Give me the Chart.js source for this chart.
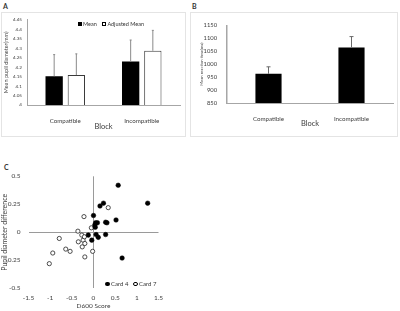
<!DOCTYPE html>
<html>
<head>
<meta charset="utf-8">
<script src="https://cdn.jsdelivr.net/npm/chart.js@4.4.1/dist/chart.umd.min.js"></script>
<style>
  body { margin: 0; width: 400px; height: 311px; background: #fff; position: relative; overflow: hidden; font-family: Lato, "Open Sans", sans-serif; }
  .box { position: absolute; border: 1px solid #e4e4e4; box-sizing: border-box; }
  .wrap { position: absolute; }
  .tag { position: absolute; font: bold 7px Lato, sans-serif; color: #333; }
  .leg { position: absolute; font-size: 5.5px; color: #333; white-space: nowrap; line-height: 7px; }
  .leg span.sq { display: inline-block; width: 4px; height: 4px; box-sizing: border-box; vertical-align: -0.5px; margin-right: 1px; }
  .leg span.dot { display: inline-block; width: 4.5px; height: 4.5px; border-radius: 50%; box-sizing: border-box; vertical-align: -0.5px; margin-right: 1.5px; }
</style>
</head>
<body>
<div class="box" style="left:1px;top:12px;width:185px;height:125px"></div>
<div class="box" style="left:190px;top:12px;width:208px;height:125px"></div>
<div class="tag" style="left:3px;top:2px">A</div>
<div class="tag" style="left:192px;top:2px">B</div>
<div class="tag" style="left:4px;top:163px">C</div>

<div class="wrap" style="left:0;top:12px;width:186px;height:124px"><canvas id="chartA"></canvas></div>
<div class="wrap" style="left:190px;top:12px;width:208px;height:124px"><canvas id="chartB"></canvas></div>
<div class="wrap" style="left:0;top:160px;width:175px;height:151px"><canvas id="chartC"></canvas></div>

<div class="leg" style="left:78px;top:20.5px">
  <span class="sq" style="background:#000"></span>Mean&nbsp;&nbsp;&nbsp;
  <span class="sq" style="background:#fff;border:0.8px solid #000"></span>Adjusted Mean
</div>
<div class="leg" style="left:105px;top:279.5px;font-size:6px">
  <span class="dot" style="background:#000"></span>Card 4&nbsp;&nbsp;
  <span class="dot" style="background:#fff;border:0.8px solid #000"></span>Card 7
</div>

<script>
// panel A
var blocks = ["Compatible", "Incompatible"];
var pupilMean = [4.152, 4.23];
var pupilMeanErr = [0.114, 0.113];
var pupilAdj = [4.158, 4.286];
var pupilAdjErr = [0.112, 0.108];
// panel B
var reactionMean = [963, 1065];
var reactionErr = [27, 42];
// panel C : [D600 score, pupil diameter difference]
var card4 = [[0.57, 0.42], [1.25, 0.26], [0.23, 0.26], [0.15, 0.235], [0.0, 0.15], [0.52, 0.11],
  [0.28, 0.09], [0.31, 0.085], [0.05, 0.085], [0.09, 0.085], [0.03, 0.065], [0.04, 0.045],
  [-0.12, -0.025], [0.06, -0.02], [0.28, -0.02], [0.11, -0.045], [-0.04, -0.07], [0.66, -0.23]];
var card7 = [[-1.02, -0.28], [-0.94, -0.185], [-0.79, -0.055], [-0.64, -0.15], [-0.54, -0.17],
  [-0.36, 0.01], [-0.35, -0.085], [-0.27, -0.025], [-0.26, -0.13], [-0.24, -0.07], [-0.21, -0.04],
  [-0.22, 0.14], [-0.2, -0.1], [-0.2, -0.22], [-0.05, 0.04], [-0.02, -0.17], [0.34, 0.22]];

var fontFam = "Lato, 'Open Sans', sans-serif";
Chart.defaults.font.family = fontFam;
Chart.defaults.animation = false;

function fmt(v) { return String(+Number(v).toFixed(2)); }
function toXY(arr) { return arr.map(function (p) { return {x: p[0], y: p[1]}; }); }

// draws the upward error bars from each bar top
var errorBars = {
  id: 'errorBars',
  afterDatasetsDraw: function (chart) {
    var ctx = chart.ctx, yScale = chart.scales.y;
    chart.data.datasets.forEach(function (ds, i) {
      if (!ds.errors) return;
      chart.getDatasetMeta(i).data.forEach(function (bar, j) {
        var top = yScale.getPixelForValue(ds.data[j] + ds.errors[j]);
        ctx.save();
        ctx.strokeStyle = ds.errorColor;
        ctx.lineWidth = 1;
        ctx.beginPath();
        ctx.moveTo(bar.x, bar.y);
        ctx.lineTo(bar.x, top);
        ctx.moveTo(bar.x - ds.capWidth, top);
        ctx.lineTo(bar.x + ds.capWidth, top);
        ctx.stroke();
        ctx.restore();
      });
    });
  }
};

new Chart(document.getElementById("chartA"), {
  type: 'bar',
  data: {
    labels: blocks,
    datasets: [
      { label: "Mean", data: pupilMean, errors: pupilMeanErr, errorColor: "#8a8a8a", capWidth: 1,
        backgroundColor: "#000", borderColor: "#000", borderWidth: 0 },
      { label: "Adjusted Mean", data: pupilAdj, errors: pupilAdjErr, errorColor: "#8a8a8a", capWidth: 1,
        backgroundColor: "#fff", borderColor: "#3a3a3a", borderWidth: 1 }
    ]
  },
  plugins: [errorBars],
  options: {
    responsive: true, maintainAspectRatio: false,
    layout: { padding: { top: 5, right: 6, left: 0, bottom: 0 } },
    categoryPercentage: 0.58, barPercentage: 0.78,
    plugins: { legend: { display: false }, tooltip: { enabled: false } },
    scales: {
      x: {
        grid: { display: false },
        border: { display: true, color: "#a6a6a6", width: 1 },
        ticks: { color: "#404040", font: { size: 6.2 }, padding: 4 },
        title: { display: true, text: "Block", color: "#404040", font: { size: 7.5 }, padding: { top: 0, bottom: 5 } },
        afterFit: function (s) { s.height = 31; }
      },
      y: {
        min: 4, max: 4.45,
        grid: { display: false, drawTicks: false },
        border: { display: true, color: "#a6a6a6", width: 1 },
        ticks: { stepSize: 0.05, color: "#404040", font: { size: 4.6 }, padding: 5, callback: fmt },
        title: { display: true, text: "Mean pupil diameter(mm)", color: "#404040", font: { size: 5.5 }, padding: { top: 2.7, bottom: 0 } },
        afterFit: function (s) { s.width = 27; }
      }
    }
  }
});

new Chart(document.getElementById("chartB"), {
  type: 'bar',
  data: {
    labels: blocks,
    datasets: [
      { label: "Mean", data: reactionMean, errors: reactionErr, errorColor: "#6a6a6a", capWidth: 2,
        backgroundColor: "#000", borderWidth: 0 }
    ]
  },
  plugins: [errorBars],
  options: {
    responsive: true, maintainAspectRatio: false,
    layout: { padding: { top: 5, right: 5, left: 0, bottom: 0 } },
    categoryPercentage: 0.315, barPercentage: 1,
    plugins: { legend: { display: false }, tooltip: { enabled: false } },
    scales: {
      x: {
        grid: { display: false },
        border: { display: true, color: "#a6a6a6", width: 1 },
        ticks: { color: "#404040", font: { size: 6.2 }, padding: 4 },
        title: { display: true, text: "Block", color: "#404040", font: { size: 7.5 }, padding: { top: 0, bottom: 7.5 } },
        afterFit: function (s) { s.height = 33; }
      },
      y: {
        min: 850, max: 1150,
        grid: { display: false, drawTicks: false },
        border: { display: true, color: "#a6a6a6", width: 1.5 },
        ticks: { stepSize: 50, color: "#404040", font: { size: 5.8 }, padding: 10, callback: fmt },
        title: { display: true, text: "Mean reaction time(ms)", color: "#404040", font: { size: 4.2 }, padding: { top: 9.5, bottom: 0 } },
        afterFit: function (s) { s.width = 37; }
      }
    }
  }
});

function zeroLine(c) { return c.tick && c.tick.value === 0 ? "#9a9a9a" : "rgba(0,0,0,0)"; }

new Chart(document.getElementById("chartC"), {
  type: 'scatter',
  data: {
    datasets: [
      { label: "Card 4", data: toXY(card4), pointRadius: 2.3, pointBackgroundColor: "#000", pointBorderColor: "#000", pointBorderWidth: 0.5 },
      { label: "Card 7", data: toXY(card7), pointRadius: 2.1, pointBackgroundColor: "#fff", pointBorderColor: "#222", pointBorderWidth: 0.8 }
    ]
  },
  options: {
    responsive: true, maintainAspectRatio: false,
    layout: { padding: { top: 16.3, right: 16.5, left: 0, bottom: 0 } },
    plugins: { legend: { display: false }, tooltip: { enabled: false } },
    scales: {
      x: {
        min: -1.5, max: 1.5,
        grid: { color: zeroLine, lineWidth: 1, drawTicks: false },
        border: { display: false },
        ticks: { stepSize: 0.5, color: "#404040", font: { size: 6.5 }, padding: 5.5, callback: fmt },
        title: { display: true, text: "D600 Score", color: "#404040", font: { size: 6.5 }, padding: { top: 0, bottom: 1 } },
        afterFit: function (s) { s.height = 22.7; }
      },
      y: {
        min: -0.5, max: 0.5,
        grid: { color: zeroLine, lineWidth: 1, drawTicks: false },
        border: { display: false },
        ticks: { stepSize: 0.25, color: "#404040", font: { size: 6.5 }, padding: 8, callback: fmt },
        title: { display: true, text: "Pupil diameter difference", color: "#404040", font: { size: 7 }, padding: { top: 1, bottom: 0 } },
        afterFit: function (s) { s.width = 28.5; }
      }
    }
  }
});
</script>
</body>
</html>
